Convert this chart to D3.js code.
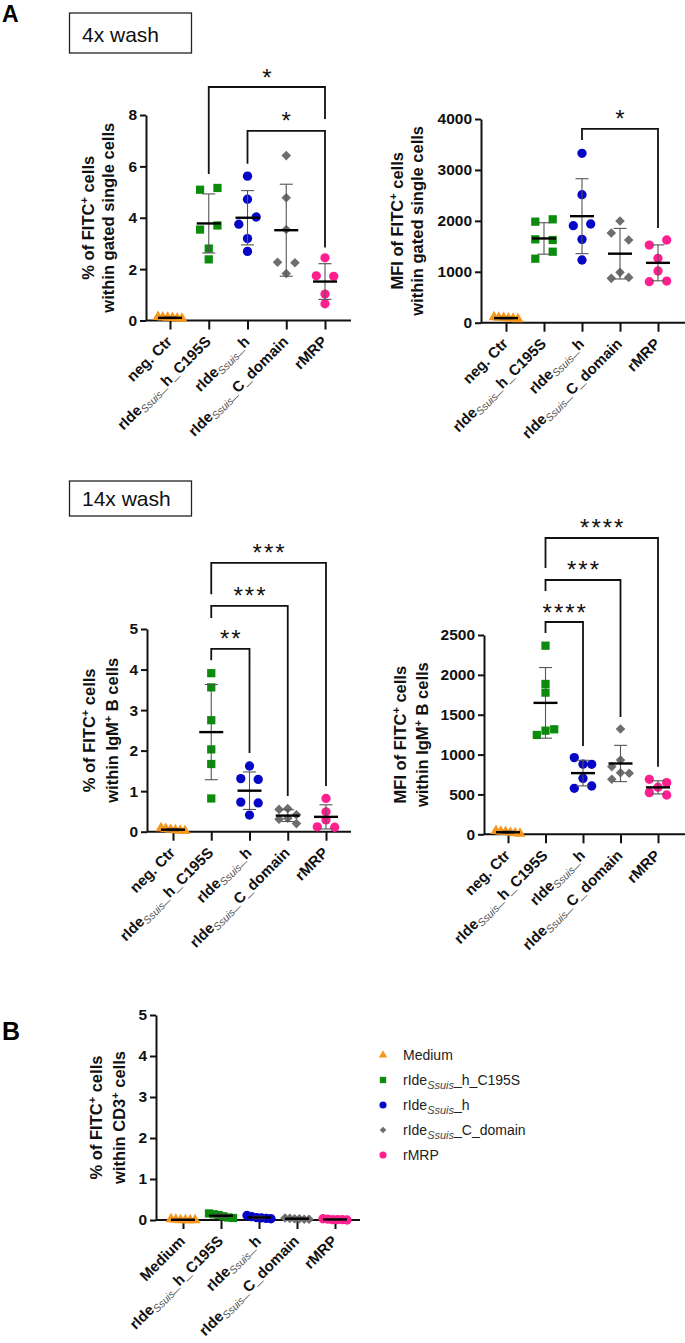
<!DOCTYPE html>
<html>
<head>
<meta charset="utf-8">
<script src="https://cdn.jsdelivr.net/npm/d3@7"></script>
<style>
  body { margin: 0; background: #fff; }
  svg { display: block; font-family: "Liberation Sans", Arial, sans-serif; }
</style>
</head>
<body>
<svg id="chart" width="685" height="1343"></svg>
<script>
// category labels ("~" wraps the subscript part)
const groupsA = ["neg. Ctr", "rIde~Ssuis~_h_C195S", "rIde~Ssuis~_h", "rIde~Ssuis~_C_domain", "rMRP"];
const groupsB = ["Medium", "rIde~Ssuis~_h_C195S", "rIde~Ssuis~_h", "rIde~Ssuis~_C_domain", "rMRP"];

// values per group
const wash4Pct = [
  [0.14, 0.12, 0.11, 0.10, 0.08, 0.07],
  [5.09, 5.16, 3.54, 3.70, 2.80, 2.38],
  [5.62, 4.72, 3.75, 4.03, 3.19, 2.69],
  [6.42, 4.78, 3.54, 2.27, 2.25, 1.83],
  [2.44, 1.74, 1.72, 1.03, 0.65]
];
const wash4Mfi = [
  [110, 100, 95, 85, 80, 70],
  [1984, 2030, 1637, 1624, 1257, 1394],
  [3326, 2514, 1905, 1938, 1637, 1231],
  [1997, 1761, 1624, 871, 989, 890],
  [1525, 1624, 1264, 1015, 805, 818]
];
const wash14Pct = [
  [0.09, 0.07, 0.05, 0.04, 0.03, 0.02],
  [3.91, 3.56, 2.75, 2.03, 1.67, 0.82],
  [1.62, 1.31, 1.29, 0.73, 0.71, 0.41],
  [0.57, 0.55, 0.42, 0.33, 0.31, 0.20],
  [0.82, 0.49, 0.12, 0.29, 0.11]
];
const wash14Mfi = [
  [45, 35, 30, 20, 15, 10],
  [2366, 1886, 1777, 1246, 1300, 1317],
  [962, 880, 878, 577, 702, 606],
  [1321, 932, 849, 773, 765, 690],
  [590, 690, 648, 523, 493]
];
const cd3Pct = [
  [0.02, 0.01, 0.00, 0.00, 0.00, 0.00],
  [0.16, 0.14, 0.12, 0.09, 0.06, 0.05],
  [0.11, 0.08, 0.06, 0.05, 0.04, 0.03],
  [0.05, 0.04, 0.03, 0.03, 0.02, 0.02],
  [0.03, 0.02, 0.01, 0.01, 0.01, 0.00]
];

// y ticks
const ticks8 = [0, 2, 4, 6, 8];
const ticks4000 = [0, 1000, 2000, 3000, 4000];
const ticks5 = [0, 1, 2, 3, 4, 5];
const ticks2500 = [0, 500, 1000, 1500, 2000, 2500];

// significance brackets: groups, bar height, left/right leg ends (data units)
const sigWash4Pct = [
  { from: 1, to: 4, top: 9.09, left: 5.7, right: 7.84, label: "*" },
  { from: 2, to: 4, top: 7.38, left: 6.1, right: 2.84, label: "*" }
];
const sigWash4Mfi = [
  { from: 2, to: 4, top: 3805, left: 3589, right: 1860, label: "*" }
];
const sigWash14Pct = [
  { from: 1, to: 2, top: 4.51, left: 4.23, right: 1.94, label: "**" },
  { from: 1, to: 3, top: 5.57, left: 5.27, right: 0.88, label: "***" },
  { from: 1, to: 4, top: 6.63, left: 5.86, right: 1.13, label: "***" }
];
const sigWash14Mfi = [
  { from: 1, to: 2, top: 2663, left: 2525, right: 1108, label: "****" },
  { from: 1, to: 3, top: 3190, left: 3052, right: 1472, label: "***" },
  { from: 1, to: 4, top: 3717, left: 3340, right: 847, label: "****" }
];

const colors = ["#f7961c", "#0c8c0c", "#0606c6", "#6e6e6e", "#ff1f8f"];
const shapes = [d3.symbolTriangle, d3.symbolSquare, d3.symbolCircle, d3.symbolSquare, d3.symbolCircle];
const sizes = [52, 68, 68, 46, 68];
const legendNames = ["Medium", "rIde~Ssuis~_h_C195S", "rIde~Ssuis~_h", "rIde~Ssuis~_C_domain", "rMRP"];

const svg = d3.select("#chart");

// text with ~sub~ or ^sup^ parts
function rich(text, str, styleSpecial, shiftSub) {
  const isSub = str.includes("~");
  const parts = str.split(isSub ? "~" : "^");
  let shift = 0;
  parts.forEach((p, k) => {
    if (!p) return;
    const special = k % 2 === 1;
    const target = special ? (isSub ? shiftSub : -6) : 0;
    const ts = text.append("tspan").text(p);
    if (target - shift) ts.attr("dy", target - shift);
    shift = target;
    if (special) styleSpecial(ts, isSub);
  });
}

// spread points of one column sideways, like a scatter dot plot
function spreadPoints(values, y) {
  const d = 8.7, thr = 8;
  const pts = values.map((v, i) => ({ v, i, py: y(v), dx: 0 }));
  const clusters = [];
  pts.slice().sort((a, b) => a.py - b.py).forEach(p => {
    const last = clusters[clusters.length - 1];
    if (last && p.py - last[last.length - 1].py < thr) last.push(p);
    else clusters.push([p]);
  });
  clusters.forEach(c => {
    const n = c.length;
    if (n === 1) return;
    c.sort((a, b) => a.i - b.i);
    const span = d3.max(c, p => p.py) - d3.min(c, p => p.py);
    if (n <= 3 || span < thr) {
      const w = n === 2 ? d : Math.min(d * (n - 1) / 2, 12);
      c.forEach((p, k) => p.dx = -w + 2 * w * k / (n - 1));
    } else {
      const placed = [];
      c.forEach(p => {
        for (const col of [0, -d, d, -2 * d, 2 * d]) {
          if (placed.every(q => q.dx !== col || Math.abs(q.py - p.py) >= thr)) { p.dx = col; break; }
        }
        placed.push(p);
      });
    }
  });
  return pts;
}

function drawPanel(cfg) {
  const g = svg.append("g");
  const y = d3.scaleLinear().domain([0, cfg.yMax]).range([cfg.y0, cfg.yTop]);
  const x = d3.scalePoint().domain(d3.range(cfg.labels.length)).range([cfg.first, cfg.last]);

  // x axis line + ticks
  g.append("line")
    .attr("x1", cfg.axisX).attr("x2", cfg.end)
    .attr("y1", cfg.y0).attr("y2", cfg.y0)
    .attr("stroke", "#111").attr("stroke-width", 2);
  const xa = g.append("g").attr("transform", `translate(0,${cfg.y0})`)
    .call(d3.axisBottom(x).tickSize(9).tickFormat(""));
  xa.select(".domain").remove();
  xa.selectAll("line").attr("stroke", "#111").attr("stroke-width", 2);

  // y axis
  const ya = g.append("g").attr("transform", `translate(${cfg.axisX},0)`)
    .call(d3.axisLeft(y).tickValues(cfg.ticks).tickSize(6).tickSizeOuter(0).tickPadding(3).tickFormat(d3.format("d")));
  ya.attr("font-family", null).attr("font-size", null);
  ya.selectAll("path, line").attr("stroke", "#111").attr("stroke-width", 2);
  ya.selectAll("text").attr("font-size", 15.5).attr("font-weight", "bold").attr("fill", "#111");

  // category labels
  cfg.labels.forEach((lab, i) => {
    const t = g.append("text")
      .attr("transform", `translate(${x(i) + 3},${cfg.y0 + 22}) rotate(-45)`)
      .attr("text-anchor", "end")
      .attr("font-size", 15).attr("font-weight", "bold").attr("fill", "#111");
    rich(t, lab, ts => ts.attr("font-size", 10.5).attr("font-weight", "normal")
      .attr("font-style", "italic").attr("fill", "#555"), 3);
  });

  // axis title (two lines)
  const cy = (cfg.y0 + cfg.yTop) / 2;
  cfg.title.forEach((line, k) => {
    const t = g.append("text")
      .attr("transform", `translate(${cfg.titleX[k]},${cy}) rotate(-90)`)
      .attr("text-anchor", "middle").attr("dy", "0.35em")
      .attr("font-size", 16.5).attr("font-weight", "bold").attr("fill", "#111");
    rich(t, line, ts => ts.attr("font-size", 11), 0);
  });

  // points, mean and SD
  cfg.data.forEach((vals, i) => {
    const pts = spreadPoints(vals, y);
    g.append("g").selectAll("path").data(pts).join("path")
      .attr("transform", p => `translate(${x(i) + p.dx},${p.py})` + (i === 3 ? " rotate(45)" : ""))
      .attr("d", d3.symbol().type(shapes[i]).size(sizes[i]))
      .attr("fill", colors[i]);

    const m = d3.mean(vals), sd = d3.deviation(vals);
    const eb = g.append("g").attr("stroke", "#555").attr("stroke-width", 1.1);
    eb.append("line").attr("x1", x(i)).attr("x2", x(i)).attr("y1", y(m - sd)).attr("y2", y(m + sd));
    [m - sd, m + sd].forEach(v => eb.append("line")
      .attr("x1", x(i) - 6.5).attr("x2", x(i) + 6.5).attr("y1", y(v)).attr("y2", y(v)));
    g.append("line")
      .attr("x1", x(i) - 12).attr("x2", x(i) + 12).attr("y1", y(m)).attr("y2", y(m))
      .attr("stroke", "#000").attr("stroke-width", 2.4);
  });

  // significance brackets
  (cfg.sig || []).forEach(s => {
    g.append("path")
      .attr("d", `M${x(s.from)},${y(s.left)}V${y(s.top)}H${x(s.to)}V${y(s.right)}`)
      .attr("fill", "none").attr("stroke", "#111").attr("stroke-width", 1.8);
    g.append("text")
      .attr("x", (x(s.from) + x(s.to)) / 2 + (s.label.length > 1 ? 1 : 0))
      .attr("y", y(s.top) - 1.5)
      .attr("text-anchor", "middle")
      .attr("font-size", 24)
      .attr("letter-spacing", s.label.length > 1 ? 2 : 0)
      .attr("fill", "#111")
      .text(s.label);
  });
}

const titlePct = "% of FITC^+^ cells";
const titleMfi = "MFI of FITC^+^ cells";

drawPanel({ data: wash4Pct, labels: groupsA, ticks: ticks8, yMax: 8,
  axisX: 146, first: 170, last: 325, end: 351, y0: 320.5, yTop: 115,
  title: [titlePct, "within gated single cells"], titleX: [88, 108], sig: sigWash4Pct });
drawPanel({ data: wash4Mfi, labels: groupsA, ticks: ticks4000, yMax: 4000,
  axisX: 481, first: 506, last: 658, end: 685, y0: 322.7, yTop: 119,
  title: [titleMfi, "within gated single cells"], titleX: [397, 417], sig: sigWash4Mfi });
drawPanel({ data: wash14Pct, labels: groupsA, ticks: ticks5, yMax: 5,
  axisX: 147, first: 173, last: 326, end: 351, y0: 831.7, yTop: 629,
  title: [titlePct, "within IgM^+^ B cells"], titleX: [89, 112], sig: sigWash14Pct });
drawPanel({ data: wash14Mfi, labels: groupsA, ticks: ticks2500, yMax: 2500,
  axisX: 484, first: 508, last: 658, end: 685, y0: 834.3, yTop: 635,
  title: [titleMfi, "within IgM^+^ B cells"], titleX: [400, 422], sig: sigWash14Mfi });
drawPanel({ data: cd3Pct, labels: groupsB, ticks: ticks5, yMax: 5,
  axisX: 156, first: 183, last: 335, end: 360, y0: 1220, yTop: 1015,
  title: [titlePct, "within CD3^+^ cells"], titleX: [96, 119] });

// panel letters and wash boxes
svg.append("text").attr("x", 2).attr("y", 22).text("A")
  .attr("font-weight", "bold").attr("font-size", 23);
svg.append("text").attr("x", 2).attr("y", 1040).text("B")
  .attr("font-weight", "bold").attr("font-size", 25);

[{ text: "4x wash", y: 13, h: 40, base: 42 }, { text: "14x wash", y: 481, h: 35, base: 506 }].forEach(b => {
  svg.append("rect").attr("x", 69.5).attr("y", b.y).attr("width", 122).attr("height", b.h)
    .attr("fill", "none").attr("stroke", "#222").attr("stroke-width", 1.3);
  svg.append("text").attr("x", 82).attr("y", b.base).attr("font-size", 21).attr("fill", "#111").text(b.text);
});

// legend for B
const legend = svg.append("g").attr("transform", "translate(383,1055)");
legendNames.forEach((name, i) => {
  const row = legend.append("g").attr("transform", `translate(0,${i * 25})`);
  row.append("path")
    .attr("transform", i === 3 ? "rotate(45)" : null)
    .attr("d", d3.symbol().type(shapes[i]).size(i === 3 ? 22 : (i === 0 ? 30 : 40)))
    .attr("fill", colors[i]);
  const t = row.append("text").attr("x", 20).attr("y", 5).attr("font-size", 14).attr("fill", "#222");
  rich(t, name, ts => ts.attr("font-size", 11).attr("font-style", "italic").attr("fill", "#444"), 4);
});
</script>
</body>
</html>
